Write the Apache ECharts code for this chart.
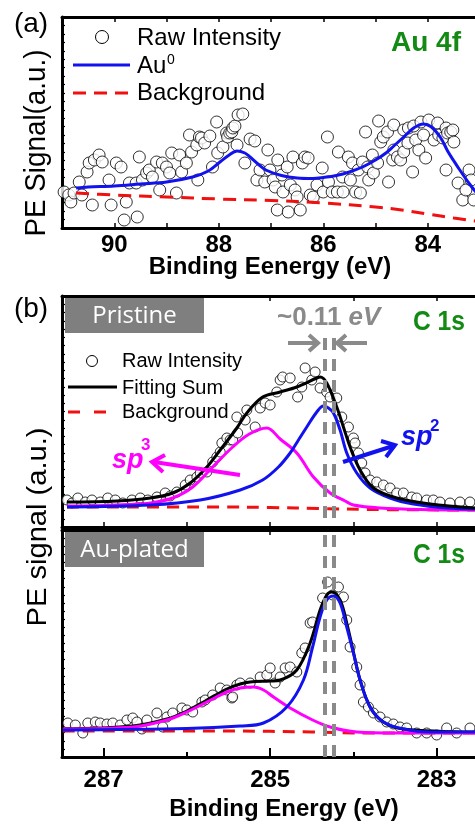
<!DOCTYPE html>
<html><head><meta charset="utf-8">
<script src="https://cdn.jsdelivr.net/npm/echarts@6/dist/echarts.min.js"></script>
<style>html,body{margin:0;padding:0;background:#fff;overflow:hidden;width:475px;height:827px}#c{width:475px;height:827px}</style>
</head><body><div id="c"></div><script>
// ---------- DATA ----------
// Panel (a) Au 4f : [binding energy (eV), intensity (a.u.)]
const rawAu = [
[90.96,36],[90.87,33],[90.83,26],[90.77,35],[90.67,46],[90.62,33],[90.52,56],[90.48,65],[90.42,23],[90.38,68],[90.29,73],[90.23,66],[90.10,48],[90.06,23],[89.96,65],[89.87,61],[89.81,8],[89.77,26],[89.71,45],[89.58,45],[89.56,11],[89.52,71],[89.46,48],[89.38,55],[89.33,58],[89.27,51],[89.19,66],[89.13,38],[89.08,65],[89.00,61],[88.94,55],[88.90,75],[88.81,35],[88.75,73],[88.71,56],[88.62,65],[88.56,93],[88.52,76],[88.42,83],[88.40,48],[88.37,91],[88.33,90],[88.27,85],[88.17,92],[88.12,61],[88.04,106],[88.02,75],[87.92,81],[87.85,95],[87.83,91],[87.79,95],[87.75,96],[87.73,100],[87.69,102],[87.65,83],[87.63,113],[87.54,114],[87.50,65],[87.40,89],[87.31,87],[87.27,48],[87.21,58],[87.12,46],[87.06,78],[87.02,58],[86.96,48],[86.92,41],[86.88,18],[86.87,68],[86.79,53],[86.77,36],[86.69,61],[86.67,16],[86.63,43],[86.58,71],[86.54,38],[86.50,31],[86.44,18],[86.40,65],[86.35,71],[86.29,70],[86.25,33],[86.19,31],[86.12,43],[86.02,60],[86.00,36],[85.92,91],[85.90,46],[85.83,36],[85.73,36],[85.71,76],[85.63,51],[85.62,36],[85.52,71],[85.48,48],[85.44,65],[85.38,36],[85.33,58],[85.29,35],[85.25,66],[85.19,96],[85.15,61],[85.13,48],[85.06,73],[85.04,55],[84.96,65],[84.94,107],[84.90,86],[84.85,91],[84.77,96],[84.75,46],[84.67,68],[84.65,78],[84.65,103],[84.58,71],[84.52,68],[84.46,76],[84.46,98],[84.38,85],[84.37,100],[84.29,56],[84.27,102],[84.23,88],[84.17,78],[84.13,106],[84.08,93],[84.04,70],[83.98,108],[83.88,88],[83.81,105],[83.79,93],[83.71,90],[83.65,58],[83.65,100],[83.62,95],[83.56,96],[83.52,98],[83.50,86],[83.42,45],[83.33,28],[83.27,38],[83.21,58],[83.17,48],[83.12,28]
];
const au0Fit = [[90.73,40],[90.5,41],[90,42],[89.5,44],[89,46],[88.5,51],[88.2,57],[88,65],[87.8,73],[87.65,77],[87.5,75],[87.4,71],[87.25,64],[87.1,58],[86.8,52.5],[86.5,50],[86.2,49.5],[86,50.5],[85.75,52.5],[85.5,56],[85.25,61],[85,68],[84.8,75],[84.65,82],[84.46,91],[84.27,100],[84.08,104],[83.93,101],[83.75,90],[83.62,77],[83.5,67],[83.4,59],[83.2,44],[83.08,36]];
const bgAu = [[90.73,35],[90,33],[89,31],[88,29],[87,27.5],[86,25],[85,21],[84.5,18],[84,14],[83.5,10],[83.08,7]];
const xTicksA = [84, 86, 88, 90];

// Panel (b) C 1s, pristine
const rawPristine = [
[287.44,27],[287.38,24],[287.31,29],[287.22,25],[287.14,27],[287.04,25],[286.95,29],[286.86,27],[286.77,24],[286.66,27],[286.56,29],[286.47,27],[286.36,30],[286.26,34],[286.20,31],[286.12,35],[286.02,42],[285.96,47],[285.88,50],[285.84,54],[285.76,55],[285.69,65],[285.64,70],[285.60,75],[285.58,84],[285.52,89],[285.48,87],[285.45,87],[285.40,110],[285.39,94],[285.30,107],[285.28,117],[285.18,100],[285.12,119],[285.06,124],[285.00,122],[284.92,135],[284.88,147],[284.85,150],[284.76,149],[284.67,130],[284.62,140],[284.58,159],[284.50,147],[284.46,155],[284.40,139],[284.32,135],[284.28,130],[284.20,129],[284.14,110],[284.06,100],[284.00,89],[283.98,84],[283.94,74],[283.90,64],[283.86,54],[283.80,47],[283.72,45],[283.64,42],[283.56,39],[283.48,34],[283.40,34],[283.30,30],[283.24,29],[283.12,27],[283.04,27],[282.96,25],[282.84,24],[282.72,25],[282.60,25]
];
const sumPristine = [[287.44,25],[286.84,26],[286.44,29],[286.17,34],[285.96,44],[285.76,60],[285.60,77],[285.40,99],[285.28,114],[285.09,130],[284.88,135],[284.68,140],[284.44,149],[284.40,150],[284.32,144],[284.20,120],[284.12,100],[284.04,80],[283.92,57],[283.76,39],[283.48,29],[283.08,23],[282.54,19]];
const sp2Pristine = [[287.44,20],[286.44,22],[285.84,27],[285.36,37],[285.09,47],[284.9,60],[284.76,74],[284.66,87],[284.56,100],[284.44,115],[284.36,121],[284.30,119],[284.24,114],[284.16,97],[284.08,74],[283.96,54],[283.80,39],[283.56,29],[283.28,23],[282.87,19],[282.54,18]];
const sp3Pristine = [[287.44,21],[287,21.5],[286.7,22.5],[286.44,24],[286.17,29],[285.93,40],[285.69,60],[285.45,80],[285.25,93],[285.04,99],[284.88,88],[284.68,74],[284.48,50],[284.28,34],[284.1,26],[284.0,22],[283.68,19],[283.2,17.5],[282.54,17]];
const bgPristine = [[287.44,20],[285.6,20],[285.0,19.5],[284.4,18.5],[283.8,17.5],[282.54,17]];

// Panel (b) C 1s, Au-plated
const rawPlated = [
[287.43,34],[287.34,32],[287.25,24],[287.19,34],[287.10,35],[287.04,34],[286.96,33],[286.89,34],[286.80,32],[286.72,37],[286.65,39],[286.60,35],[286.54,28],[286.48,37],[286.36,44],[286.29,30],[286.24,40],[286.17,44],[286.06,49],[286.00,47],[285.93,45],[285.82,55],[285.78,57],[285.69,62],[285.60,69],[285.52,67],[285.46,59],[285.45,60],[285.40,72],[285.36,74],[285.24,74],[285.12,80],[285.04,82],[285.00,89],[284.94,74],[284.88,80],[284.82,89],[284.76,90],[284.68,85],[284.62,104],[284.58,109],[284.52,134],[284.49,135],[284.37,159],[284.31,175],[284.25,162],[284.18,170],[284.12,160],[284.08,137],[284.04,110],[283.96,90],[283.92,72],[283.88,55],[283.82,50],[283.76,44],[283.68,40],[283.60,35],[283.52,33],[283.44,30],[283.36,29],[283.24,24],[283.12,24],[283.00,22],[282.88,29],[282.76,24],[282.60,29]
];
const sumPlated = [[287.49,28],[286.65,31],[286.24,38],[286.0,46],[285.76,57],[285.52,68],[285.36,73],[285.24,75],[285.0,76],[284.88,77],[284.68,87],[284.52,114],[284.40,147],[284.32,162],[284.26,165],[284.16,157],[284.08,134],[284.00,105],[283.92,77],[283.80,50],[283.64,35],[283.40,28],[282.54,25]];
const sp2Plated = [[287.49,27],[286,28.5],[285.36,31],[285.08,34],[284.8,50],[284.6,77],[284.49,110],[284.40,140],[284.32,157],[284.24,161],[284.16,154],[284.08,130],[284.00,104],[283.92,77],[283.80,50],[283.64,35],[283.40,28],[283.08,25],[282.54,25]];
const sp3Plated = [[287.49,28],[286.65,30],[286.24,37],[286.0,45],[285.76,55],[285.52,65],[285.36,69],[285.2,70],[285.08,67],[284.96,60],[284.76,49],[284.49,37],[284.28,30],[283.96,25],[283.48,24],[282.54,24]];
const bgPlated = [[287.49,26],[285.5,26],[284.5,25],[284,24],[282.54,24]];

const xTicksB = [283, 285, 287];
const xMinorB = [284, 286];
const sp2Peaks = [284.35, 284.24];   // pristine / Au-plated sp2 positions (~0.11 eV shift)

// ---------- STYLE ----------
const FONT = 'Liberation Sans, Arial, Helvetica, sans-serif';
const BLUE = '#1212ee', RED = '#f01010', MAG = '#ff00ff', GRN = '#138a13', GRAY = '#8a8a8a';

const chart = echarts.init(document.getElementById('c'), null, {renderer: 'canvas', width: 475, height: 827});

function xAx(grid, pos, min, max, extra) {
  return Object.assign({
    type: 'value', gridIndex: grid, position: pos, min: min, max: max, inverse: true,
    axisLine: {show: true, onZero: false, lineStyle: {color: '#000', width: 3}},
    axisTick: {show: true, inside: true, length: 5, lineStyle: {color: '#000', width: 1.5}},
    axisLabel: {show: false}, splitLine: {show: false}
  }, extra || {});
}
function yAx(grid, max, interval) {
  return {
    type: 'value', gridIndex: grid, min: 0, max: max, interval: interval,
    axisLine: {show: true, onZero: false, lineStyle: {color: '#000', width: 3}},
    axisTick: {show: true, inside: true, length: 3, lineStyle: {color: '#000', width: 1.2}},
    axisLabel: {show: false}, splitLine: {show: false}
  };
}
const labelStyle = {show: true, color: '#000', fontSize: 24, fontWeight: 'bold', fontFamily: FONT, margin: 5};

const xAxes = [
  xAx(0, 'bottom', 83, 91, {interval: 1, axisLabel: Object.assign({}, labelStyle, {formatter: v => (xTicksA.indexOf(v) >= 0 ? String(v) : '')})}),
  xAx(0, 'top', 83, 91, {interval: 1}),
  xAx(1, 'bottom', 282.5, 287.5, {axisTick: {show: true, inside: true, length: 5, customValues: xTicksB.concat(xMinorB), lineStyle: {color: '#000', width: 1.5}}}),
  xAx(1, 'top', 282.5, 287.5, {axisTick: {show: true, inside: true, length: 5, customValues: xTicksB.concat(xMinorB), lineStyle: {color: '#000', width: 1.5}}}),
  xAx(2, 'bottom', 282.5, 287.5, {axisTick: {show: true, inside: true, length: 9, customValues: xTicksB, lineStyle: {color: '#000', width: 2}},
      axisLabel: Object.assign({}, labelStyle, {customValues: xTicksB, margin: 11})}),
  xAx(2, 'bottom', 282.5, 287.5, {axisLine: {show: false}, axisTick: {show: true, inside: true, length: 5, customValues: xMinorB, lineStyle: {color: '#000', width: 2}}}),
  xAx(2, 'top', 282.5, 287.5, {axisTick: {show: true, inside: true, length: 5, customValues: xTicksB.concat(xMinorB), lineStyle: {color: '#000', width: 1.5}}})
];
const yAxes = [yAx(0, 211, 211 / 25), yAx(1, 231, 231 / 28), yAx(2, 227, 227 / 28)];

const circ = (size) => ({type: 'scatter', symbol: 'circle', symbolSize: size, silent: true,
  itemStyle: {color: '#fff', borderColor: '#000', borderWidth: 1}, z: 2});
const ln = (color, width, type) => ({type: 'line', smooth: 0.35, showSymbol: false, silent: true,
  lineStyle: {color: color, width: width, type: type || 'solid'}, z: 3});

function vMark(top) {
  return {silent: true, symbol: 'none', label: {show: false},
    lineStyle: {color: GRAY, width: 4, type: [12, 9]},
    data: sp2Peaks.map(v => top == null ? {xAxis: v} : [{coord: [v, top]}, {coord: [v, 0]}])};
}

const series = [
  Object.assign(circ(12), {xAxisIndex: 0, yAxisIndex: 0, data: rawAu}),
  Object.assign(ln(BLUE, 3), {xAxisIndex: 0, yAxisIndex: 0, data: au0Fit}),
  Object.assign(ln(RED, 3, [13, 8]), {xAxisIndex: 0, yAxisIndex: 0, data: bgAu}),

  Object.assign(circ(10), {xAxisIndex: 2, yAxisIndex: 1, data: rawPristine}),
  Object.assign(ln(RED, 3, [12, 8]), {xAxisIndex: 2, yAxisIndex: 1, data: bgPristine, markLine: vMark(189)}),
  Object.assign(ln(MAG, 3), {xAxisIndex: 2, yAxisIndex: 1, data: sp3Pristine}),
  Object.assign(ln(BLUE, 3), {xAxisIndex: 2, yAxisIndex: 1, data: sp2Pristine}),
  Object.assign(ln('#000', 3), {xAxisIndex: 2, yAxisIndex: 1, data: sumPristine}),

  Object.assign(circ(10), {xAxisIndex: 4, yAxisIndex: 2, data: rawPlated}),
  Object.assign(ln(RED, 3, [12, 8]), {xAxisIndex: 4, yAxisIndex: 2, data: bgPlated, markLine: vMark(null)}),
  Object.assign(ln('#000', 3), {xAxisIndex: 4, yAxisIndex: 2, data: sumPlated}),
  Object.assign(ln(MAG, 3), {xAxisIndex: 4, yAxisIndex: 2, data: sp3Plated}),
  Object.assign(ln(BLUE, 3), {xAxisIndex: 4, yAxisIndex: 2, data: sp2Plated})
];

// ---------- annotations ----------
const measureCtx = document.createElement('canvas').getContext('2d');
function fitScale(text, size, target) {
  measureCtx.font = size + 'px ' + FONT;
  const w = measureCtx.measureText(text).width || target;
  return target / w;
}
function txt(x, y, text, size, opt) {
  opt = opt || {};
  return {type: 'text', x: x, y: y, rotation: opt.rotation || 0, scaleX: opt.scaleX || 1, scaleY: opt.scaleY || 1, z: 50, silent: true,
    style: {text: text, fill: opt.color || '#000', fontSize: size, fontFamily: opt.family || FONT,
      fontWeight: opt.weight || 'normal', fontStyle: opt.style || 'normal',
      align: opt.align || 'left', textAlign: opt.align || 'left', verticalAlign: 'middle', textVerticalAlign: 'middle',
      rich: opt.rich}};
}
function seg(points, color, width, dash) {
  return {type: 'polyline', z: 50, silent: true, shape: {points: points},
    style: {stroke: color, lineWidth: width, fill: null, lineDash: dash || null, lineCap: 'butt', lineJoin: 'miter'}};
}
const yTitleA = 'PE Signal(a.u.)', yTitleB = 'PE signal (a.u.)';
const graphics = [
  txt(31, 24, '(a)', 28, {align: 'center'}),
  txt(31, 309, '(b)', 28, {align: 'center'}),
  txt(37, 143, yTitleA, 30, {align: 'center', rotation: Math.PI / 2, scaleX: fitScale(yTitleA, 30, 187)}),
  txt(38.5, 527, yTitleB, 28, {align: 'center', rotation: Math.PI / 2, scaleX: fitScale(yTitleB, 28, 199)}),
  // legend (a)
  {type: 'circle', z: 50, shape: {cx: 102, cy: 37, r: 6.5}, style: {fill: '#fff', stroke: '#000', lineWidth: 1}},
  txt(137, 38, 'Raw Intensity', 24),
  seg([[73, 65], [130, 65]], BLUE, 3),
  txt(137, 66, 'Au', 24),
  txt(167, 60, '0', 14),
  seg([[73, 93], [130, 93]], RED, 3, [13, 8]),
  txt(137, 93, 'Background', 24),
  txt(426, 43, 'Au 4f', 28, {weight: 'bold', color: GRN, align: 'center'}),
  txt(270, 267, 'Binding Eenergy (eV)', 24, {weight: 'bold', align: 'center'}),
  // (b) labels
  {type: 'rect', z: 40, shape: {x: 65, y: 298, width: 139, height: 35}, style: {fill: '#7f7f7f'}},
  txt(134.5, 316, 'Pristine', 24, {color: '#fff', family: 'Open Sans, Noto Sans, sans-serif', align: 'center'}),
  {type: 'rect', z: 40, shape: {x: 65, y: 532, width: 139, height: 35}, style: {fill: '#7f7f7f'}},
  txt(134.5, 550, 'Au-plated', 24, {color: '#fff', family: 'Open Sans, Noto Sans, sans-serif', align: 'center'}),
  txt(439, 322, 'C 1s', 28, {weight: 'bold', color: GRN, align: 'center', scaleX: 0.88}),
  txt(439, 555, 'C 1s', 28, {weight: 'bold', color: GRN, align: 'center', scaleX: 0.88}),
  // legend (b)
  {type: 'circle', z: 50, shape: {cx: 92, cy: 361, r: 5.5}, style: {fill: '#fff', stroke: '#000', lineWidth: 1}},
  txt(122, 361, 'Raw Intensity', 20),
  seg([[68, 387], [117, 387]], '#000', 3),
  txt(122, 388, 'Fitting Sum', 20),
  seg([[68, 412], [112, 412]], RED, 3, [12, 14]),
  txt(122, 412, 'Background', 20),
  // shift annotation
  txt(277, 318, '{a|~0.11 }{b|eV}', 26, {color: GRAY, rich: {
    a: {fontSize: 26, fontWeight: 'bold', fontFamily: FONT, fill: GRAY, color: GRAY},
    b: {fontSize: 26, fontWeight: 'bold', fontStyle: 'italic', fontFamily: FONT, fill: GRAY, color: GRAY}}}),
  seg([[288, 343], [317, 343]], GRAY, 4),
  seg([[309, 335], [318, 343], [309, 351]], GRAY, 4),
  seg([[367, 343], [338, 343]], GRAY, 4),
  seg([[346, 335], [337, 343], [346, 351]], GRAY, 4),
  // sp3 / sp2 labels
  txt(112, 461, 'sp', 27, {weight: 'bold', style: 'italic', color: MAG}),
  txt(141, 445, '3', 17, {weight: 'bold', color: MAG}),
  seg([[240, 475], [154, 462]], MAG, 4),
  seg([[165, 455], [152, 462], [163, 472]], MAG, 4),
  txt(401, 438, 'sp', 27, {weight: 'bold', style: 'italic', color: BLUE}),
  txt(430, 426, '2', 17, {weight: 'bold', color: BLUE}),
  seg([[343, 462], [393, 446]], BLUE, 4),
  seg([[381, 441], [395, 445], [386, 457]], BLUE, 4),
  txt(284, 809, 'Binding Energy (eV)', 24, {weight: 'bold', align: 'center'})
];

chart.setOption({
  animation: false,
  backgroundColor: '#fff',
  grid: [
    {left: 62, top: 17, width: 418, height: 211, outerBoundsMode: 'none', containLabel: false},
    {left: 62, top: 296, width: 416.3, height: 231, outerBoundsMode: 'none', containLabel: false},
    {left: 62, top: 530, width: 416.3, height: 227, outerBoundsMode: 'none', containLabel: false}
  ],
  xAxis: xAxes,
  yAxis: yAxes,
  series: series,
  graphic: {elements: graphics}
});
</script></body></html>
